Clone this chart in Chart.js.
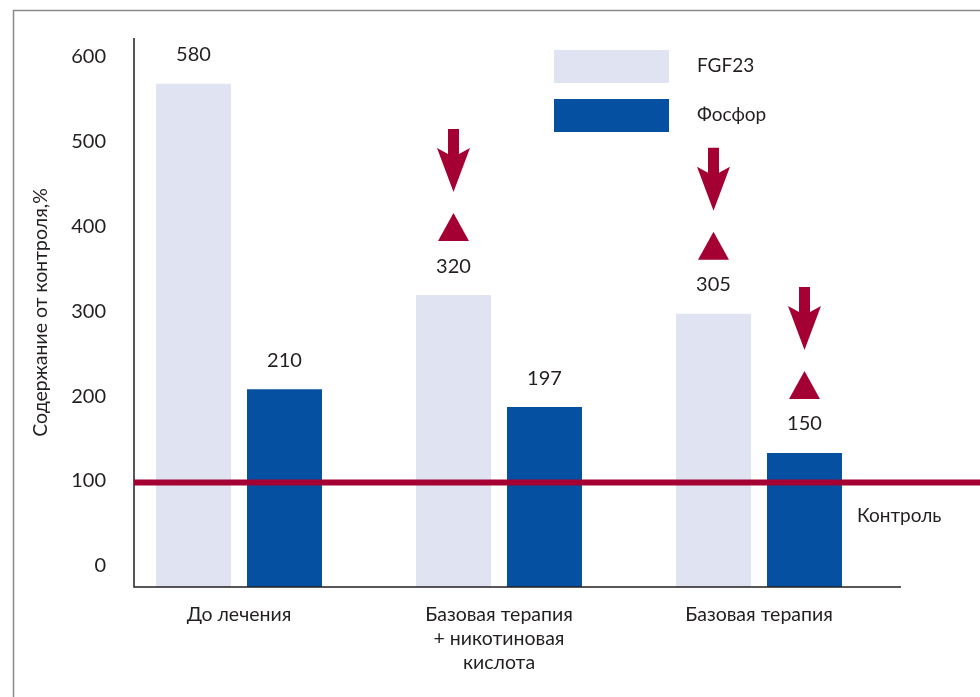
<!DOCTYPE html>
<html>
<head>
<meta charset="utf-8">
<script src="https://cdn.jsdelivr.net/npm/chart.js@4.4.0/dist/chart.umd.min.js"></script>
<style>
    body { margin: 0; background: #fff; }
    #wrap { width: 980px; height: 697px; }
</style>
</head>
<body>
<div id="wrap"><canvas id="fgf_chart" width="980" height="697"></canvas></div>
<script>
//data
const categories = [
    'До лечения',
    ['Базовая терапия', '+ никотиновая', 'кислота'],
    'Базовая терапия'
];
const fgf23Values = [568, 319, 297];
const phosphorValues = [208, 187, 133];
const fgf23Labels = ['580', '320', '305'];
const phosphorLabels = ['210', '197', '150'];
const fgf23Arrows = [false, true, true];
const phosphorArrows = [false, false, true];
const yTicks = [0, 100, 200, 300, 400, 500, 600];
const controlValue = 100;

//config color
const fgfColor = '#e0e3f1';
const phosColor = '#0550a0';
const redColor = '#a50034';
const textColor = '#231f20';
const fontFamily = 'Lato, "Open Sans", sans-serif';

//down arrow + triangle over a value label
function drawMarker(ctx, x, ly) {
    ctx.fillStyle = redColor;
    //triangle
    ctx.beginPath();
    ctx.moveTo(x - 15.5, ly - 25);
    ctx.lineTo(x + 15.5, ly - 25);
    ctx.lineTo(x, ly - 53);
    ctx.closePath();
    ctx.fill();
    //arrow
    const tip = ly - 74;
    ctx.beginPath();
    ctx.moveTo(x - 5.5, tip - 63);
    ctx.lineTo(x + 5.5, tip - 63);
    ctx.lineTo(x + 5.5, tip - 38);
    ctx.lineTo(x + 16.5, tip - 44);
    ctx.lineTo(x, tip);
    ctx.lineTo(x - 16.5, tip - 44);
    ctx.lineTo(x - 5.5, tip - 38);
    ctx.closePath();
    ctx.fill();
}

const decorPlugin = {
    id: 'decor',
    beforeDraw(chart) {
        const ctx = chart.ctx;
        ctx.save();
        //frame
        ctx.strokeStyle = '#8a8a8a';
        ctx.lineWidth = 1.5;
        ctx.beginPath();
        ctx.moveTo(13.5, 697);
        ctx.lineTo(13.5, 10.5);
        ctx.lineTo(980, 10.5);
        ctx.stroke();
        ctx.restore();
    },
    afterDatasetsDraw(chart) {
        const ctx = chart.ctx;
        const area = chart.chartArea;
        const yScale = chart.scales.y;
        ctx.save();
        //axes
        ctx.strokeStyle = textColor;
        ctx.lineWidth = 1.5;
        ctx.beginPath();
        ctx.moveTo(134, area.top);
        ctx.lineTo(134, area.bottom);
        ctx.lineTo(901, area.bottom);
        ctx.stroke();

        //control line
        const cy = yScale.getPixelForValue(controlValue) + 1.5;
        ctx.strokeStyle = redColor;
        ctx.lineWidth = 6;
        ctx.beginPath();
        ctx.moveTo(134, cy);
        ctx.lineTo(980, cy);
        ctx.stroke();

        ctx.font = '19px ' + fontFamily;
        ctx.fillStyle = textColor;
        ctx.textAlign = 'left';
        ctx.textBaseline = 'middle';
        ctx.fillText('Контроль', 857, cy + 33);

        //value labels and arrows
        ctx.font = '20px ' + fontFamily;
        const labelSets = [fgf23Labels, phosphorLabels];
        const arrowSets = [fgf23Arrows, phosphorArrows];
        chart.data.datasets.forEach((ds, di) => {
            const meta = chart.getDatasetMeta(di);
            meta.data.forEach((bar, i) => {
                const ly = bar.y - 29;
                ctx.fillStyle = textColor;
                ctx.textAlign = 'center';
                ctx.fillText(labelSets[di][i], bar.x, ly);
                if (arrowSets[di][i]) drawMarker(ctx, bar.x, ly);
            });
        });

        //legend
        ctx.font = '19px ' + fontFamily;
        chart.data.datasets.forEach((ds, di) => {
            const top = 50 + di * 49;
            ctx.fillStyle = ds.backgroundColor;
            ctx.fillRect(554, top, 115, 33);
            ctx.fillStyle = textColor;
            ctx.textAlign = 'left';
            ctx.fillText(ds.label, 697, top + 16);
        });
        ctx.restore();
    }
};

function initChart() {
    const ctx = document.getElementById('fgf_chart').getContext('2d');
    const barChart = new Chart(ctx, {
        type: 'bar',
        data: {
            labels: categories,
            datasets: [{
                label: 'FGF23',
                data: fgf23Values,
                backgroundColor: fgfColor,
                base: -25,
                categoryPercentage: 0.7,
                barPercentage: 0.824
            }, {
                label: 'Фосфор',
                data: phosphorValues,
                backgroundColor: phosColor,
                base: -25,
                categoryPercentage: 0.7,
                barPercentage: 0.824
            }]
        },
        options: {
            responsive: false,
            animation: false,
            layout: {
                padding: { left: 14, top: 38, right: 91, bottom: 0 }
            },
            plugins: {
                legend: { display: false },
                tooltip: { enabled: false }
            },
            scales: {
                x: {
                    grid: { display: false, drawTicks: false },
                    border: { display: false },
                    ticks: {
                        color: textColor,
                        padding: 16,
                        maxRotation: 0,
                        font: { family: fontFamily, size: 19.5, lineHeight: 1.23 }
                    },
                    afterFit(scale) { scale.height = 110; }
                },
                y: {
                    min: -25,
                    max: 622,
                    grid: { display: false, drawTicks: false },
                    border: { display: false },
                    afterBuildTicks(scale) {
                        scale.ticks = yTicks.map(v => ({ value: v }));
                    },
                    ticks: {
                        color: textColor,
                        padding: 3,
                        font: { family: fontFamily, size: 20 }
                    },
                    title: {
                        display: true,
                        text: 'Содержание от контроля,%',
                        color: textColor,
                        padding: { top: 15, bottom: 0 },
                        font: { family: fontFamily, size: 19.5 }
                    },
                    afterFit(scale) { scale.width = 95; }
                }
            }
        },
        plugins: [decorPlugin]
    });
}

initChart();
</script>
</body>
</html>
